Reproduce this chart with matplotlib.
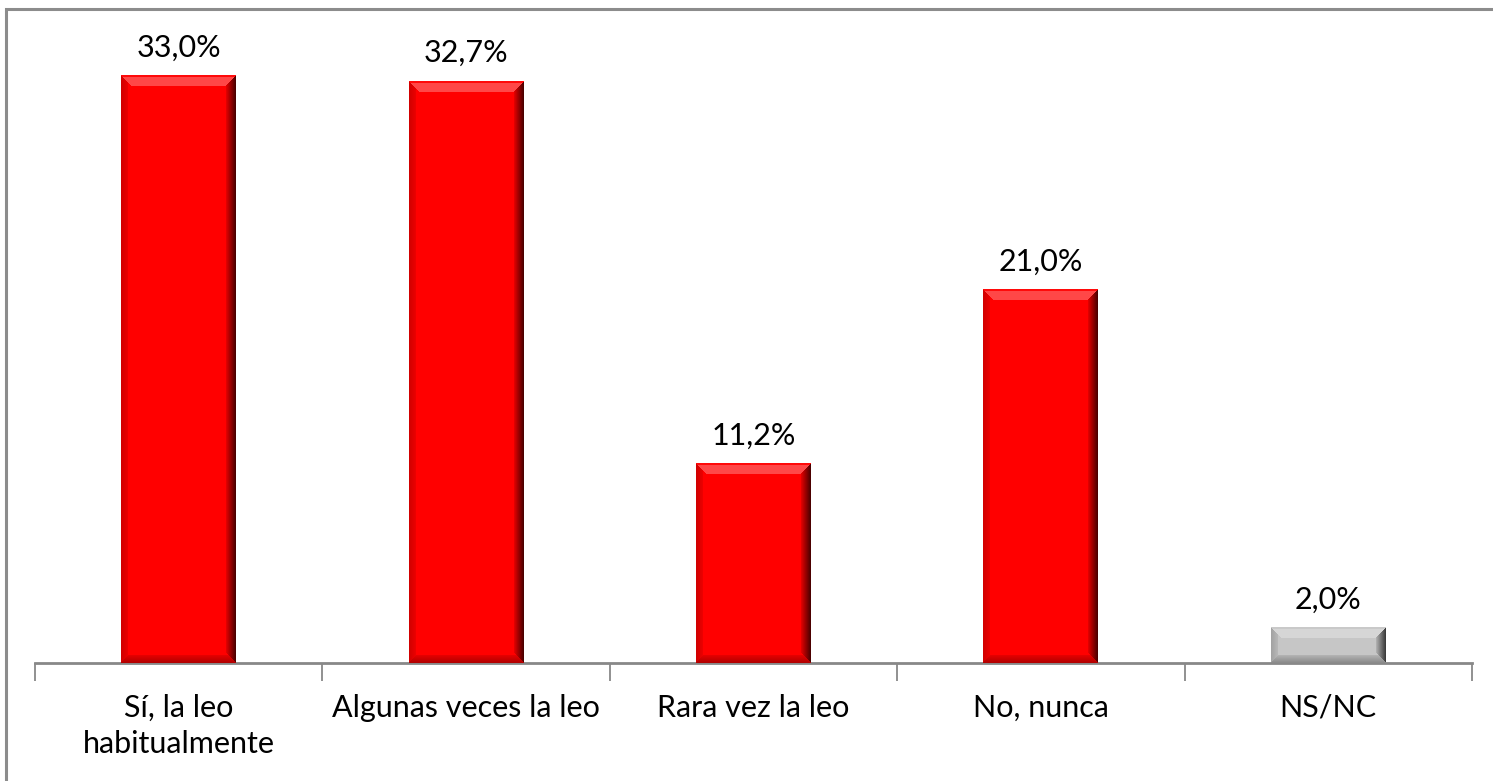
import numpy as np
import matplotlib
matplotlib.use("Agg")
import matplotlib.pyplot as plt
from matplotlib.patches import Rectangle

categories = ["Sí, la leo\nhabitualmente", "Algunas veces la leo", "Rara vez la leo", "No, nunca", "NS/NC"]
values = [33.0, 32.7, 11.2, 21.0, 2.0]
labels = ["33,0%", "32,7%", "11,2%", "21,0%", "2,0%"]
base_colors = [(1.0, 0.0, 0.0)] * 4 + [(0.78, 0.78, 0.78)]

W, H = 1493, 781
fig = plt.figure(figsize=(W / 100, H / 100), dpi=100)
ax = fig.add_axes([35 / W, 1 - 663 / H, (1472 - 35) / W, (663 - 9) / H])
ax.set_xlim(-0.5, len(values) - 0.5)
ax.set_ylim(0, 36.76)

fig.patches.append(Rectangle((6 / W, -0.1), 1.2, 1 - 9 / H + 0.1, transform=fig.transFigure,
                             fill=False, edgecolor="#8c8c8c", linewidth=2.2, clip_on=False))

bar_w = 0.4
x = np.arange(len(values))
bars = ax.bar(x, values, width=bar_w, color=base_colors, edgecolor="none", zorder=2)


def bevel_image(nw, nh, base, bev=11):
    base = np.array(base)
    yy, xx = np.mgrid[0:nh, 0:nw]
    d = np.stack([yy, nh - 1 - yy, xx, nw - 1 - xx])
    which = np.argmin(d, axis=0)
    dmin = np.min(d, axis=0)
    t = np.clip(dmin / bev, 0, 1)
    img = np.tile(base, (nh, nw, 1)).astype(float)
    light = base + (1 - base) * 0.28
    m = (which == 0) & (dmin < bev)
    img[m] = light
    m0 = (which == 0) & (dmin < 2)
    img[m0] = base * 0.85 + light * 0.15
    m = (which == 1) & (dmin < bev - 3)
    f = (0.7 + 0.3 * t)[m][:, None]
    img[m] = base * f
    m = (which == 2) & (dmin < bev - 4)
    f = (0.82 + 0.18 * t)[m][:, None]
    img[m] = base * f
    m = (which == 3) & (dmin < bev - 1)
    f = (0.3 + 0.7 * t)[m][:, None]
    img[m] = base * f
    return np.clip(img, 0, 1)


fig.canvas.draw()
for b, c in zip(bars, base_colors):
    x0, y0 = b.get_x(), b.get_y()
    x1, y1 = x0 + b.get_width(), y0 + b.get_height()
    p0 = ax.transData.transform((x0, y0))
    p1 = ax.transData.transform((x1, y1))
    nw = max(int(round(p1[0] - p0[0])), 2)
    nh = max(int(round(p1[1] - p0[1])), 2)
    img = bevel_image(nw, nh, c)
    ax.imshow(img, extent=(x0, x1, y0, y1), aspect="auto", zorder=3, interpolation="nearest")
    b.set_visible(False)

ax.set_xlim(-0.5, len(values) - 0.5)
ax.set_ylim(0, 36.76)

font = "Lato"
for xi, v, lab in zip(x, values, labels):
    ax.annotate(lab, (xi, v), xytext=(0, 28), textcoords="offset pixels", ha="center", va="center",
                fontsize=22, family=font, color="black")

ax.set_xticks(np.arange(-0.5, len(values), 1.0), minor=False)
ax.set_xticklabels([])
ax.set_xticks(x, minor=True)
ax.set_xticklabels(categories, minor=True, fontsize=22, family=font, linespacing=1.35)
ax.tick_params(axis="x", which="major", length=13, width=1.3, color="#888888", direction="out")
ax.tick_params(axis="x", which="minor", length=0, pad=22)
ax.set_yticks([])
for s in ["top", "right", "left"]:
    ax.spines[s].set_visible(False)
ax.spines["bottom"].set_color("#888888")
ax.spines["bottom"].set_linewidth(2)

fig.savefig("out.png", dpi=100)
